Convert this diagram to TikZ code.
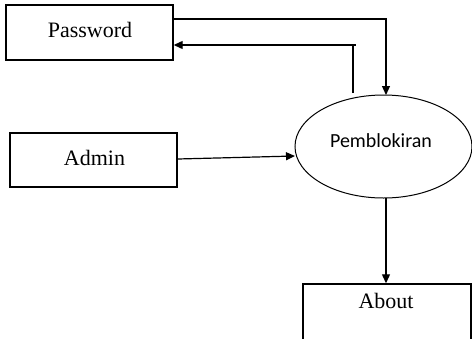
\documentclass[tikz,border=0pt]{standalone}
\usepackage{fontspec}
\setmainfont{Liberation Serif}
\newfontfamily\calib{Carlito}
\usetikzlibrary{shapes.geometric,arrows.meta}
\begin{document}
\begin{tikzpicture}[x=1pt,y=-1pt,
  entity/.style={draw,line width=1.4pt,inner sep=0pt,font=\fontsize{22}{24}\selectfont},
  flow/.style={draw,line width=1.2pt,-{Triangle[length=9pt,width=8pt]}},
  proc/.style={draw,ellipse,line width=1pt,minimum width=177pt,minimum height=103pt,inner sep=0pt}]
\useasboundingbox (0,0) rectangle (472,338);
\clip (0,0) rectangle (472,338);
\node[entity,minimum width=167pt,minimum height=55pt] (pw) at (89.5,32.5) {};
\node[font=\fontsize{22}{24}\selectfont] (pwt) at (90,30) {Password};
\node[entity,minimum width=167pt,minimum height=54pt] (ad) at (93.5,160) {};
\node[font=\fontsize{22}{24}\selectfont] (adt) at (94.5,157.5) {Admin};
\node[proc] (pb) at (383.5,146.5) {};
\node[font=\calib\fontsize{20}{22}\selectfont] (pbt) at (381,141) {Pemblokiran};
\node[entity,minimum width=168pt,minimum height=70pt] (ab) at (387,319) {};
\node[font=\fontsize{22}{24}\selectfont] (abt) at (386,301) {About};
\coordinate (c1) at (386,19);
\coordinate (c2) at (353,45);
\coordinate (c3) at (353,93);
\draw[flow] (pw.east |- c1) -- (c1) -- (386,95);
\draw[line width=1.2pt] (c3) -- (c2) -- ++(3,0);
\draw[flow] (c2) -- (pw.east |- c2);
\draw[flow] (ad.east |- 0,159) -- (295,156);
\draw[flow] (386,198) -- (ab.north -| 386,0);
\end{tikzpicture}
\end{document}
